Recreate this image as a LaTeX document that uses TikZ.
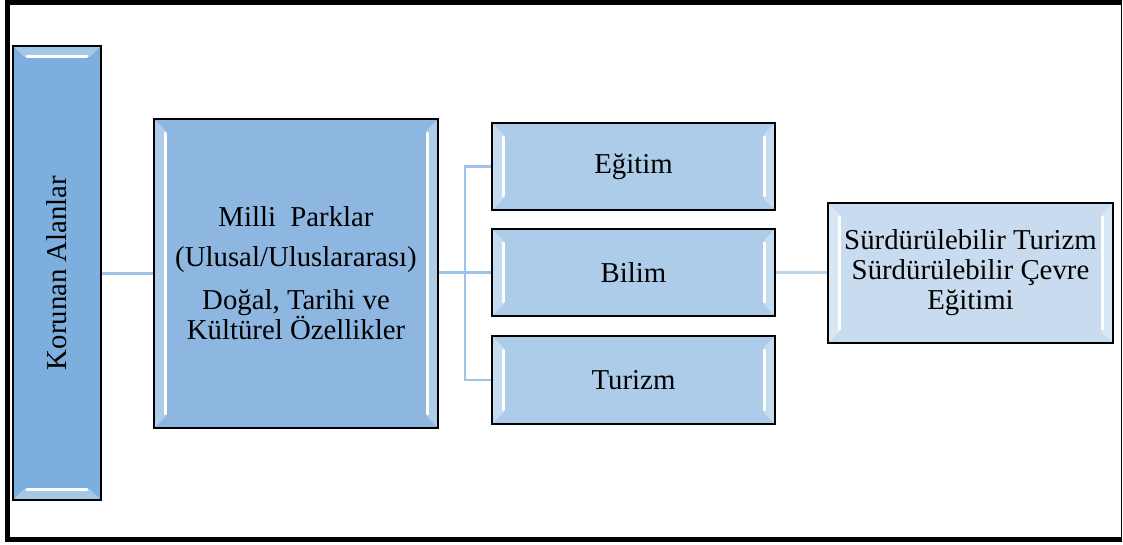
\documentclass[tikz,border=0pt]{standalone}
\usepackage{fontspec}
\setmainfont{Liberation Serif}
\definecolor{cKor}{HTML}{7DAFDE}
\definecolor{cMil}{HTML}{8DB7E0}
\definecolor{cMid}{HTML}{ADCCE9}
\definecolor{cSur}{HTML}{C9DCEF}
\definecolor{cLine}{HTML}{9DC3E6}
\definecolor{cLine2}{HTML}{BDD6EE}
\tikzset{
  box/.style={draw=black, line width=1.6pt, align=center, inner sep=0pt,
    font=\fontsize{28.8}{30}\selectfont},
  hlh/.style={path picture={
    \fill[white,opacity=0.3] (path picture bounding box.north west) -- ([xshift=11pt,yshift=-11pt]path picture bounding box.north west) -- ([xshift=11pt,yshift=11pt]path picture bounding box.south west) -- (path picture bounding box.south west) -- cycle;
    \fill[white,opacity=0.3] (path picture bounding box.north east) -- ([xshift=-11pt,yshift=-11pt]path picture bounding box.north east) -- ([xshift=-11pt,yshift=11pt]path picture bounding box.south east) -- (path picture bounding box.south east) -- cycle;
    \draw[white,line width=3pt,line cap=round] ([xshift=11pt,yshift=-14pt]path picture bounding box.north west) -- ([xshift=11pt,yshift=14pt]path picture bounding box.south west);
    \draw[white,line width=3pt,line cap=round] ([xshift=-11pt,yshift=-14pt]path picture bounding box.north east) -- ([xshift=-11pt,yshift=14pt]path picture bounding box.south east);
  }},
  hlv/.style={path picture={
    \fill[white,opacity=0.3] (path picture bounding box.north west) -- ([xshift=11pt,yshift=-11pt]path picture bounding box.north west) -- ([xshift=-11pt,yshift=-11pt]path picture bounding box.north east) -- (path picture bounding box.north east) -- cycle;
    \fill[white,opacity=0.3] (path picture bounding box.south west) -- ([xshift=11pt,yshift=11pt]path picture bounding box.south west) -- ([xshift=-11pt,yshift=11pt]path picture bounding box.south east) -- (path picture bounding box.south east) -- cycle;
    \draw[white,line width=3pt,line cap=round] ([xshift=14pt,yshift=-11pt]path picture bounding box.north west) -- ([xshift=-14pt,yshift=-11pt]path picture bounding box.north east);
    \draw[white,line width=3pt,line cap=round] ([xshift=14pt,yshift=11pt]path picture bounding box.south west) -- ([xshift=-14pt,yshift=11pt]path picture bounding box.south east);
  }},
  conn/.style={draw=cLine, line width=2.2pt},
  conn2/.style={draw=cLine2, line width=2.2pt},
  frameline/.style={draw=black, line width=5pt}
}
\begin{document}
\begin{tikzpicture}[x=1pt,y=-1pt]
\useasboundingbox (0,0) rectangle (1123,545);
\fill[white] (0,0) rectangle (1123,545);
% outer frame
\coordinate (fTL) at (7.5,3);
\coordinate (fTR) at (1121.5,3);
\coordinate (fBL) at (7.5,539.5);
\coordinate (fBR) at (1121.5,539.5);
\draw[frameline] (fTR) -- (fTL) -- (fBL) -- (fBR);
\draw[draw=black, line width=1.5pt] (fTR) -- (fBR);
% boxes
\node[box, hlv, fill=cKor, minimum width=88pt, minimum height=454pt] (kor) at (57,273)
  {\rotatebox{90}{Korunan Alanlar}};
\node[box, hlh, fill=cMil, minimum width=284pt, minimum height=309pt] (mil) at (296,273.5)
  {Milli\ \ Parklar\\[10pt](Ulusal/Uluslararası)\\[13pt]Doğal, Tarihi ve\\Kültürel Özellikler};
\node[box, hlh, fill=cMid, minimum width=283pt, minimum height=87pt] (egi) at (633.5,166.5) {Eğitim};
\node[box, hlh, fill=cMid, minimum width=283pt, minimum height=87pt] (bil) at (633.5,272.5) {Bilim};
\node[box, hlh, fill=cMid, minimum width=283pt, minimum height=88pt] (tur) at (633.5,380) {Turizm};
\node[box, hlh, fill=cSur, minimum width=285pt, minimum height=140pt] (sur) at (970.5,273)
  {Sürdürülebilir Turizm\\Sürdürülebilir Çevre\\Eğitimi};
% connectors
\coordinate (br) at (465,272.5);
\draw[conn] (kor.east |- mil.west) -- (mil.west);
\draw[conn] (mil.east |- bil.west) -- (bil.west);
\draw[conn] (egi.west) -| (br) |- (tur.west);
\draw[conn2] (bil.east) -- (sur.west |- bil.east);
\end{tikzpicture}
\end{document}
